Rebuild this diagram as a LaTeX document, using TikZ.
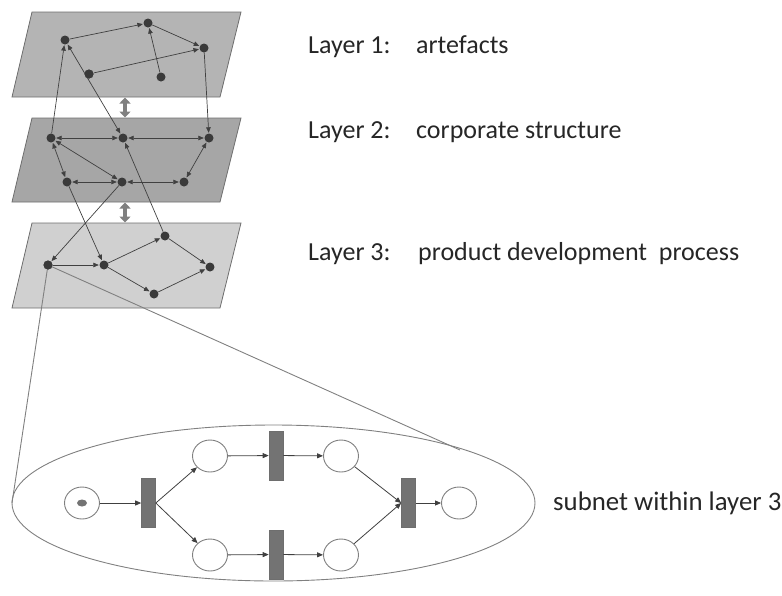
\documentclass[tikz,border=0pt]{standalone}
\usepackage{fontspec}
\setmainfont{Carlito}
\usetikzlibrary{arrows.meta,shapes.geometric}
\definecolor{edgec}{HTML}{404040}
\definecolor{dotc}{HTML}{3A3A3A}
\definecolor{frame}{HTML}{6E6E6E}
\definecolor{lay1}{HTML}{B4B4B4}
\definecolor{lay2}{HTML}{A6A6A6}
\definecolor{lay3}{HTML}{D0D0D0}
\definecolor{placec}{HTML}{808080}
\definecolor{transc}{HTML}{737373}
\definecolor{txt}{HTML}{262626}
\tikzset{
  dot/.style={circle,fill=dotc,inner sep=0,minimum size=9pt},
  arc/.style={draw=edgec,line width=0.7pt,-{Triangle[length=5.5pt,width=4.5pt]},shorten >=0.5pt},
  barc/.style={draw=edgec,line width=0.7pt,{Triangle[length=5.5pt,width=4.5pt]}-{Triangle[length=5.5pt,width=4.5pt]},shorten >=0.5pt,shorten <=0.5pt},
  layer/.style={draw=frame,line width=0.8pt},
  updown/.style={draw=placec,line width=4.5pt,{Triangle[length=6pt,width=11pt]}-{Triangle[length=6pt,width=11pt]}},
  place/.style={ellipse,draw=placec,fill=white,line width=0.9pt,minimum width=35pt,minimum height=32pt,inner sep=0},
  trans/.style={rectangle,draw=frame,fill=transc,line width=0.6pt,minimum width=14pt,minimum height=49pt,inner sep=0},
  parc/.style={draw=edgec,line width=0.8pt,-{Triangle[length=6pt,width=5pt]}},
  zoomline/.style={draw=placec,line width=0.9pt},
  lab/.style={anchor=base west,inner sep=0,text=txt,font=\fontsize{26}{30}\selectfont}
}
\begin{document}
\begin{tikzpicture}[x=1pt,y=-1pt]
\useasboundingbox (0,0) rectangle (782,595);

% layers
\fill[lay3] (32,223) -- (241,223) -- (220,308) -- (12,308) -- cycle;
\draw[layer] (32,223) -- (241,223) -- (220,308) -- (12,308) -- cycle;
\fill[lay2] (32,118) -- (241,118) -- (220,202) -- (12,202) -- cycle;
\draw[layer] (32,118) -- (241,118) -- (220,202) -- (12,202) -- cycle;
\fill[lay1] (32,12) -- (241,12) -- (220,97) -- (12,97) -- cycle;
\draw[layer] (32,12) -- (241,12) -- (220,97) -- (12,97) -- cycle;

% double arrows between layers
\coordinate (u1) at (125,97.5);
\coordinate (d1) at (125,117.5);
\coordinate (u2) at (125,202.5);
\coordinate (d2) at (125,222.5);
\draw[updown] (u1) -- (d1);
\draw[updown] (u2) -- (d2);

% layer 1 nodes
\node[dot] (A) at (65,40) {};
\node[dot] (B) at (148,23) {};
\node[dot] (C) at (204,48) {};
\node[dot] (D) at (89,74) {};
\node[dot] (E) at (161,77) {};
% layer 2 nodes
\node[dot] (F) at (51,138) {};
\node[dot] (G) at (123,138) {};
\node[dot] (H) at (209,138) {};
\node[dot] (I) at (67,182) {};
\node[dot] (J) at (122,182) {};
\node[dot] (K) at (184,182) {};
% layer 3 nodes
\node[dot] (Q1) at (48,265) {};
\node[dot] (Q2) at (104,265) {};
\node[dot] (Q3) at (165,236) {};
\node[dot] (Q4) at (154,294) {};
\node[dot] (Q5) at (210,267) {};

% layer 1 edges
\draw[arc] (A) -- (B);
\draw[arc] (B) -- (C);
\draw[arc] (D) -- (C);
\draw[arc] (E) -- (B);
% layer 2 edges
\draw[barc] (F) -- (G);
\draw[barc] (G) -- (H);
\draw[barc] (I) -- (J);
\draw[barc] (J) -- (K);
\draw[barc] (F) -- (J);
\draw[barc] (F) -- (I);
\draw[barc] (H) -- (K);
% layer 3 edges
\draw[arc] (Q1) -- (Q2);
\draw[arc] (Q2) -- (Q3);
\draw[arc] (Q2) -- (Q4);
\draw[arc] (Q3) -- (Q5);
\draw[arc] (Q4) -- (Q5);
% cross-layer edges
\draw[arc] (F) -- (A);
\draw[barc] (G) -- (A);
\draw[arc] (C) -- (H);
\draw[arc] (Q3) -- (G);
\draw[arc] (J) -- (Q1);
\draw[arc] (I) -- (Q2);
\node[dot] at (D) {};

% subnet ellipse and zoom lines
\node[ellipse,draw=placec,line width=0.9pt,minimum width=523pt,minimum height=156pt,inner sep=0] (ell) at (273.5,503) {};
\coordinate (zl) at (12,503);
\coordinate (zr) at (460,450);
\draw[zoomline] (Q1.center) -- (zl);
\draw[zoomline] (Q1.center) -- (zr);
\node[dot] at (Q1) {};

% petri net
\node[place] (p0) at (82,503) {};
\node[ellipse,fill=transc,inner sep=0,minimum width=10pt,minimum height=7pt] (tok) at (82,503) {};
\node[trans] (t1) at (148.5,503) {};
\node[place] (p1) at (210,456) {};
\node[place] (p2) at (210,555) {};
\node[trans] (t2) at (276,455.5) {};
\node[trans] (t3) at (276,554.5) {};
\node[place] (p3) at (341,456) {};
\node[place] (p4) at (341,555) {};
\node[trans] (t4) at (408.5,503) {};
\node[place] (p5) at (459,503) {};
\draw[parc] (p0) -- (t1);
\draw[parc] (t1.east) -- (p1);
\draw[parc] (t1.east) -- (p2);
\draw[parc] (p1) -- (t2);
\draw[parc] (p2) -- (t3);
\draw[parc] (t2) -- (p3);
\draw[parc] (t3) -- (p4);
\draw[parc] (p3) -- (t4.west);
\draw[parc] (p4) -- (t4.west);
\draw[parc] (t4) -- (p5);

% labels
\node[lab] (l1) at (308,53) {Layer 1:};
\node[lab] (l1b) at (416,53) {artefacts};
\node[lab] (l2) at (308,138) {Layer 2:};
\node[lab] (l2b) at (416,138) {corporate structure};
\node[lab] (l3) at (308,260) {Layer 3:};
\node[lab] (l3b) at (418,260) {product development\ \ process};
\node[lab,font=\fontsize{26.8}{30}\selectfont] (l4) at (553,510) {subnet within layer 3};
\end{tikzpicture}
\end{document}
